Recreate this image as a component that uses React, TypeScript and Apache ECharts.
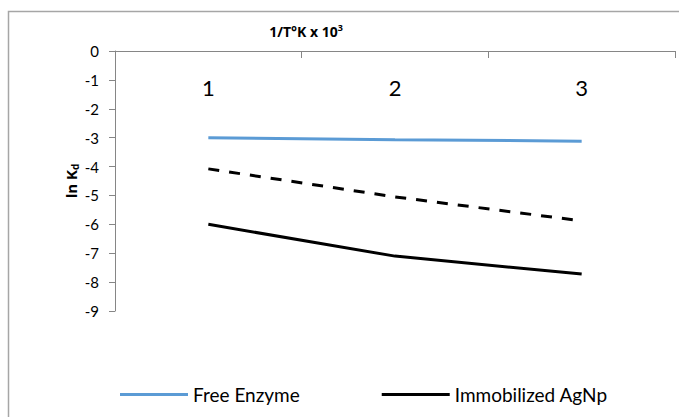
import React, { useEffect, useRef } from "react";
import * as echarts from "echarts";

const categories = ["1", "2", "3"];
const freeEnzyme = [-3.0, -3.07, -3.12];
const dashedSeries = [-4.08, -5.05, -5.88];
const immobilizedAgNp = [-6.0, -7.1, -7.72];
const yTicks = { min: -9, max: 0, interval: 1 };

const FONT = "Lato, 'Open Sans', sans-serif";
const TFONT = "'Open Sans', Lato, sans-serif";

export default function App() {
  const ref = useRef<HTMLDivElement>(null);
  useEffect(() => {
    if (!ref.current) return;
    const chart = echarts.init(ref.current, undefined, { renderer: "svg" });
    chart.setOption({
      animation: false,
      backgroundColor: "#fff",
      textStyle: { fontFamily: FONT },
      grid: { left: 115, top: 51, right: 4, bottom: 106, containLabel: false },
      graphic: [
        {
          type: "rect",
          shape: { x: 8.5, y: 11.5, width: 700, height: 430 },
          style: { fill: "none", stroke: "#a6a6a6", lineWidth: 1.5 },
          silent: true,
        },
        {
          type: "text",
          x: 306,
          y: 31,
          style: {
            text: "{a|1/T°K x 10}{s|3}",
            align: "center",
            verticalAlign: "middle",
            rich: {
              a: { fontFamily: TFONT, fontWeight: "bold", fontSize: 14, fill: "#000" },
              s: { fontFamily: TFONT, fontWeight: "bold", fontSize: 9, fill: "#000", padding: [0, 0, 7, 0] },
            },
          },
        },
        {
          type: "text",
          x: 71,
          y: 181,
          rotation: Math.PI / 2,
          style: {
            text: "{a|ln K}{b|d}",
            align: "center",
            verticalAlign: "middle",
            rich: {
              a: { fontFamily: TFONT, fontWeight: "bold", fontSize: 15, fill: "#000" },
              b: { fontFamily: TFONT, fontWeight: "bold", fontSize: 10, fill: "#000", padding: [7, 0, 0, 0] },
            },
          },
        },
      ],
      legend: {
        data: ["Free Enzyme", "Immobilized AgNp"],
        left: 115,
        top: 380,
        icon: "rect",
        itemWidth: 68,
        itemHeight: 3,
        itemGap: 82,
        textStyle: { fontFamily: FONT, fontSize: 19, color: "#000" },
      },
      xAxis: {
        type: "category",
        data: categories,
        position: "top",
        boundaryGap: true,
        axisLine: { show: true, onZero: false, lineStyle: { color: "#868686", width: 1 } },
        axisTick: { show: true, inside: true, length: 7, lineStyle: { color: "#868686" } },
        axisLabel: { inside: true, margin: 25, fontSize: 22, color: "#000", fontFamily: FONT },
        splitLine: { show: false },
      },
      yAxis: {
        type: "value",
        min: yTicks.min,
        max: yTicks.max,
        interval: yTicks.interval,
        axisLine: { show: true, lineStyle: { color: "#868686", width: 1 } },
        axisTick: { show: true, length: 6, lineStyle: { color: "#868686" } },
        axisLabel: { fontSize: 15, color: "#000", margin: 16, fontFamily: FONT },
        splitLine: { show: false },
      },
      series: [
        {
          name: "Free Enzyme",
          type: "line",
          data: freeEnzyme,
          symbol: "none",
          color: "#5b9bd5",
          lineStyle: { color: "#5b9bd5", width: 3 },
        },
        {
          name: "Dashed",
          type: "line",
          data: dashedSeries,
          symbol: "none",
          color: "#000",
          lineStyle: { color: "#000", width: 3, type: [11, 10] },
        },
        {
          name: "Immobilized AgNp",
          type: "line",
          data: immobilizedAgNp,
          symbol: "none",
          color: "#000",
          lineStyle: { color: "#000", width: 3 },
        },
      ],
    });
    return () => chart.dispose();
  }, []);
  return (
    <div
      ref={ref}
      style={{ position: "fixed", left: 0, top: 0, width: 679, height: 417, background: "#fff" }}
    />
  );
}
